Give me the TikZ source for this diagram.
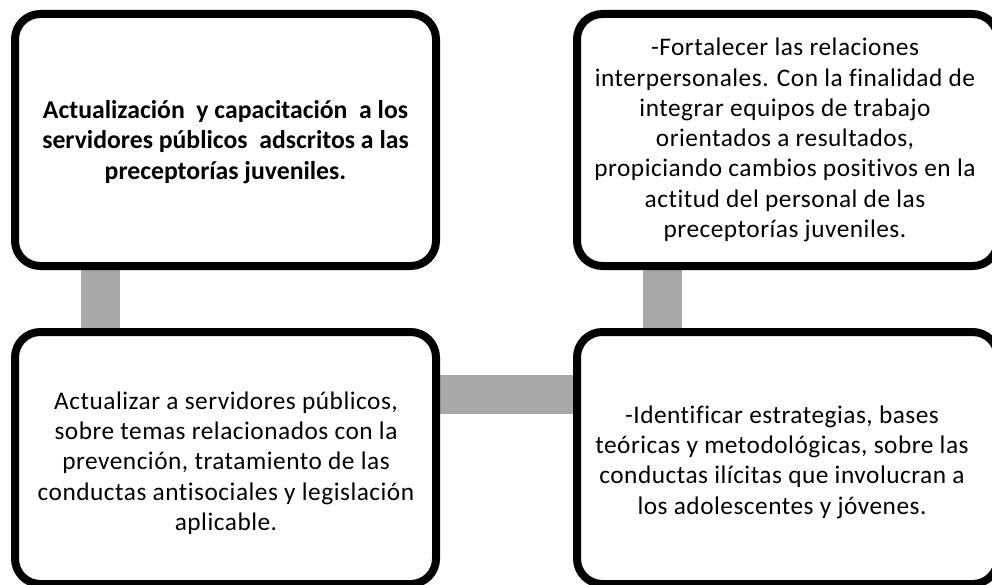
\documentclass[tikz,border=0pt]{standalone}
\usepackage{fontspec}
\setmainfont{Carlito}[Ligatures=NoCommon]
\newfontfamily\spacedfont{Carlito}[Ligatures=NoCommon, LetterSpace=2]
\usetikzlibrary{shadows,backgrounds}
\definecolor{bargray}{HTML}{A8A8A8}
\tikzset{
  box/.style={draw=black, line width=6pt, fill=white, rounded corners=19pt,
    minimum width=315.75pt, minimum height=189pt, inner sep=0pt,
    drop shadow={shadow xshift=1.5pt, shadow yshift=-2pt, opacity=0.18, fill=black}},
  txt/.style={align=center, inner sep=0pt, font=\spacedfont\fontsize{19}{22.7}\selectfont},
  boldtxt/.style={align=center, inner sep=0pt, font=\fontsize{19.3}{22.7}\selectfont\bfseries},
  bar/.style={draw=bargray, line width=29.5pt}
}
\begin{document}
\begin{tikzpicture}[x=0.75pt, y=-0.75pt]
\useasboundingbox (0,0) rectangle (992,585);
\node[box] (tl) at (225.5,140) {};
\node[box] (tr) at (787.5,140) {};
\node[box] (bl) at (225.5,458) {};
\node[box] (br) at (787.5,458) {};
\node[boldtxt] (tlt) at (225.5,142) {Actualización \ y capacitación \ a los\\servidores públicos \ adscritos a las\\preceptorías juveniles.};
\node[txt] (trt) at (785,140) {-Fortalecer las relaciones\\interpersonales. Con la finalidad de\\integrar equipos de trabajo\\orientados a resultados,\\propiciando cambios positivos en la\\actitud del personal de las\\preceptorías juveniles.};
\node[txt] (blt) at (226,463) {Actualizar a servidores públicos,\\sobre temas relacionados con la\\prevención, tratamiento de las\\conductas antisociales y legislación\\aplicable.};
\node[txt] (brt) at (782,462) {-Identificar estrategias, bases\\teóricas y metodológicas, sobre las\\conductas ilícitas que involucran a\\los adolescentes y jóvenes.};
\begin{scope}[on background layer]
\draw[bar] ([xshift=-93.75pt]tl.south) -- ([xshift=-93.75pt]bl.north);
\draw[bar] ([xshift=-93.75pt]tr.south) -- ([xshift=-93.75pt]br.north);
\draw[bar] (bl.east |- 0,394.5) -- (br.west |- 0,394.5);
\end{scope}
\end{tikzpicture}
\end{document}
